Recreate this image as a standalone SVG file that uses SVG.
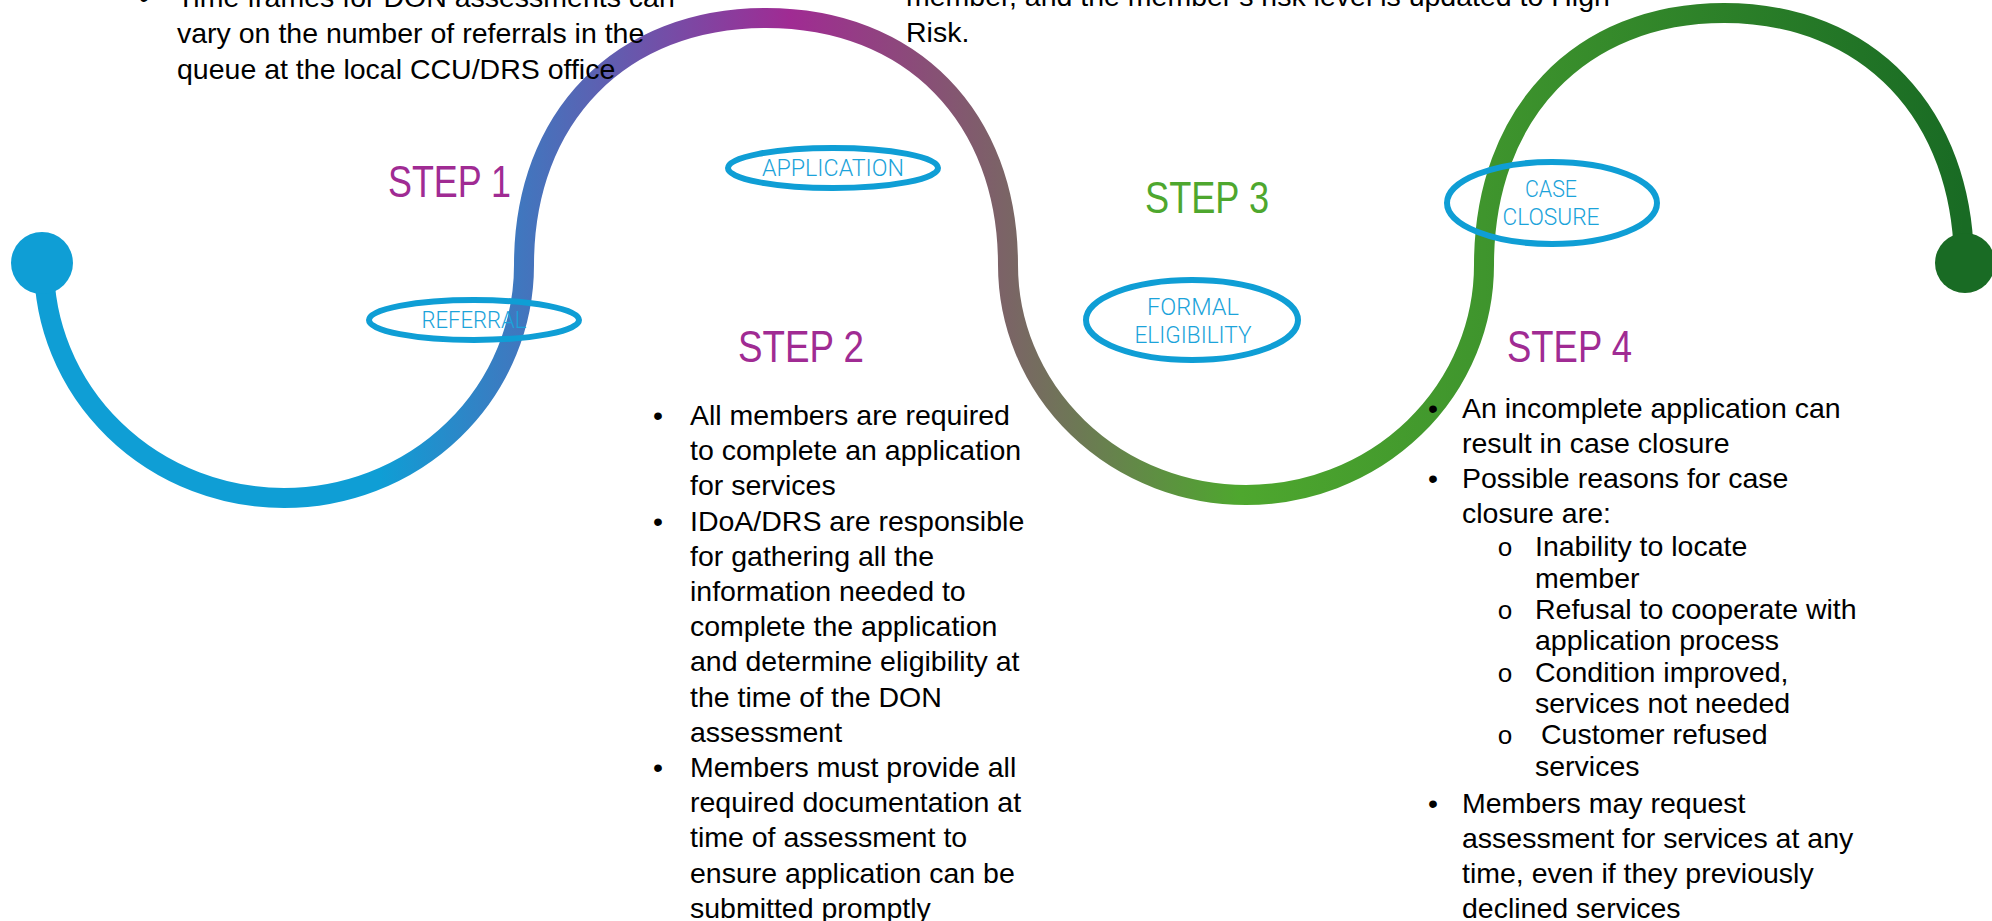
<svg xmlns="http://www.w3.org/2000/svg" width="1992" height="921" viewBox="0 0 1992 921">
  <defs>
    <!-- colour runs left to right along the winding path -->
    <linearGradient id="pathGrad" gradientUnits="userSpaceOnUse" x1="0" y1="0" x2="1992" y2="0">
      <stop offset="0" stop-color="#0F9ED5"/>
      <stop offset="0.1908" stop-color="#0F9ED5"/>
      <stop offset="0.3966" stop-color="#A02B93"/>
      <stop offset="0.507" stop-color="#7A6565"/>
      <stop offset="0.6225" stop-color="#4EA72E"/>
      <stop offset="0.745" stop-color="#3F952D"/>
      <stop offset="0.986" stop-color="#196B24"/>
      <stop offset="1" stop-color="#196B24"/>
    </linearGradient>
  </defs>
  <style>
    .body { font-family: "Liberation Sans", Arial, sans-serif; font-size: 28.5px; fill: #000000; }
    .sub { font-family: "Liberation Mono", "Courier New", monospace; font-size: 26px; text-anchor: middle; }
    .step { font-family: "Liberation Sans", Arial, sans-serif; font-size: 45px; }
    .purple { fill: #A02B93; }
    .green { fill: #4EA72E; }
    .ring { fill: none; stroke: #0F9ED5; stroke-width: 6; }
    .tag { font-family: Roboto, "Liberation Sans", sans-serif; font-weight: 300; font-size: 24px; fill: #1BA3DA; text-anchor: middle; }
    .track { fill: none; stroke: url(#pathGrad); stroke-width: 20; }
  </style>

  <rect x="0" y="0" width="1992" height="921" fill="#FFFFFF"/>

  <!-- winding path with start and end dots -->
  <g id="connectors">
    <path class="track" d="M 44 265 A 240 233 0 0 0 524 265 C 524 116.8 620.8 18 766 18 C 911.2 18 1008 116.8 1008 265 A 238 230 0 0 0 1484 265 C 1484 113.8 1580 13 1724 13 C 1868 13 1964 113.8 1964 265"/>
    <circle cx="42" cy="263" r="31" fill="#0F9ED5"/>
    <circle cx="1965" cy="263" r="30" fill="#196B24"/>
  </g>

  <!-- note carried over at the top left -->
  <g id="note-left">
    <text class="body" x="144" y="7" text-anchor="middle">•</text>
    <text class="body" x="177" y="7">Time frames for DON assessments can</text>
    <text class="body" x="177" y="43">vary on the number of referrals in the</text>
    <text class="body" x="177" y="79">queue at the local CCU/DRS office</text>
  </g>

  <!-- note carried over at the top right -->
  <g id="note-right">
    <text class="body" x="906" y="6">member, and the member’s risk level is updated to High</text>
    <text class="body" x="906" y="42">Risk.</text>
  </g>

  <g id="step1">
    <text class="step purple" x="388" y="197" textLength="123" lengthAdjust="spacingAndGlyphs">STEP 1</text>
    <ellipse class="ring" cx="474" cy="320" rx="105" ry="20"/>
    <text class="tag" x="474" y="328" textLength="105" lengthAdjust="spacingAndGlyphs">REFERRAL</text>
  </g>

  <g id="step2">
    <ellipse class="ring" cx="833" cy="168" rx="105" ry="20"/>
    <text class="tag" x="833" y="176" textLength="142" lengthAdjust="spacingAndGlyphs">APPLICATION</text>
    <text class="step purple" x="738" y="362" textLength="126" lengthAdjust="spacingAndGlyphs">STEP 2</text>
    <g class="body">
      <text x="658" y="425" text-anchor="middle">•</text>
      <text x="690" y="425">All members are required</text>
      <text x="690" y="460">to complete an application</text>
      <text x="690" y="495">for services</text>
      <text x="658" y="531" text-anchor="middle">•</text>
      <text x="690" y="531">IDoA/DRS are responsible</text>
      <text x="690" y="566">for gathering all the</text>
      <text x="690" y="601">information needed to</text>
      <text x="690" y="636">complete the application</text>
      <text x="690" y="671">and determine eligibility at</text>
      <text x="690" y="707">the time of the DON</text>
      <text x="690" y="742">assessment</text>
      <text x="658" y="777" text-anchor="middle">•</text>
      <text x="690" y="777">Members must provide all</text>
      <text x="690" y="812">required documentation at</text>
      <text x="690" y="847">time of assessment to</text>
      <text x="690" y="883">ensure application can be</text>
      <text x="690" y="918">submitted promptly</text>
    </g>
  </g>

  <g id="step3">
    <text class="step green" x="1145" y="213" textLength="124" lengthAdjust="spacingAndGlyphs">STEP 3</text>
    <ellipse class="ring" cx="1192" cy="320" rx="106" ry="40"/>
    <text class="tag" x="1193" y="315" textLength="92" lengthAdjust="spacingAndGlyphs">FORMAL</text>
    <text class="tag" x="1193" y="343" textLength="117" lengthAdjust="spacingAndGlyphs">ELIGIBILITY</text>
  </g>

  <g id="step4">
    <ellipse class="ring" cx="1552" cy="203" rx="105" ry="41"/>
    <text class="tag" x="1551" y="197" textLength="52" lengthAdjust="spacingAndGlyphs">CASE</text>
    <text class="tag" x="1551" y="225" textLength="97" lengthAdjust="spacingAndGlyphs">CLOSURE</text>
    <text class="step purple" x="1507" y="362" textLength="125" lengthAdjust="spacingAndGlyphs">STEP 4</text>
    <g class="body">
      <text x="1433" y="418" text-anchor="middle">•</text>
      <text x="1462" y="418">An incomplete application can</text>
      <text x="1462" y="453">result in case closure</text>
      <text x="1433" y="488" text-anchor="middle">•</text>
      <text x="1462" y="488">Possible reasons for case</text>
      <text x="1462" y="523">closure are:</text>
      <text class="sub" x="1505" y="556">o</text>
      <text x="1535" y="556">Inability to locate</text>
      <text x="1535" y="588">member</text>
      <text class="sub" x="1505" y="619">o</text>
      <text x="1535" y="619">Refusal to cooperate with</text>
      <text x="1535" y="650">application process</text>
      <text class="sub" x="1505" y="682">o</text>
      <text x="1535" y="682">Condition improved,</text>
      <text x="1535" y="713">services not needed</text>
      <text class="sub" x="1505" y="744">o</text>
      <text x="1541" y="744">Customer refused</text>
      <text x="1535" y="776">services</text>
      <text x="1433" y="813" text-anchor="middle">•</text>
      <text x="1462" y="813">Members may request</text>
      <text x="1462" y="848">assessment for services at any</text>
      <text x="1462" y="883">time, even if they previously</text>
      <text x="1462" y="918">declined services</text>
    </g>
  </g>
</svg>
